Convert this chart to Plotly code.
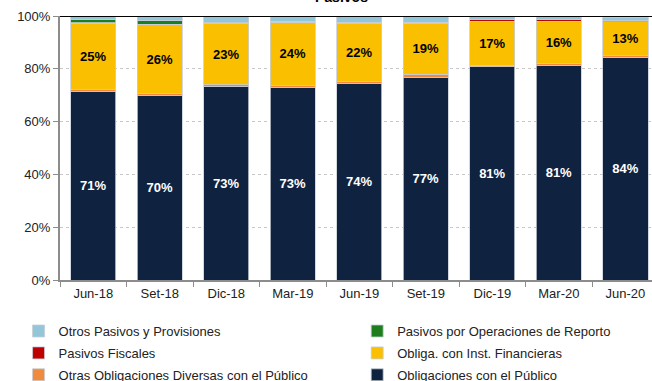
import plotly.graph_objects as go

categories = ["Jun-18", "Set-18", "Dic-18", "Mar-19", "Jun-19", "Set-19", "Dic-19", "Mar-20", "Jun-20"]

oblig_publico = [71.3, 69.8, 73.4, 72.8, 74.3, 76.6, 80.8, 81.3, 84.4]
otras_oblig = [1.0, 0.9, 0.5, 0.9, 0.8, 1.3, 0.5, 0.8, 0.5]
oblig_inst_fin = [25.0, 26.0, 23.2, 23.9, 22.2, 19.4, 16.8, 16.0, 12.9]
pasivos_fiscales = [0.1, 0.1, 0.1, 0.4, 0.4, 0.4, 0.4, 0.5, 0.4]
pasivos_reporto = [1.1, 1.4, 0.4, 0.0, 0.0, 0.0, 0.0, 0.0, 0.0]
otros_pasivos = [1.5, 1.8, 2.4, 2.0, 2.3, 2.3, 1.5, 1.4, 1.4]

# (name, values, color, labeled, label color, legend column, rank in column)
series = [
    ("Obligaciones con el Público", oblig_publico, "#0F2341", True, "white", "legend2", 3),
    ("Otras Obligaciones Diversas con el Público", otras_oblig, "#F08A3C", False, None, "legend", 3),
    ("Obliga. con Inst. Financieras", oblig_inst_fin, "#FAC000", True, "black", "legend2", 2),
    ("Pasivos Fiscales", pasivos_fiscales, "#C00000", False, None, "legend", 2),
    ("Pasivos por Operaciones de Reporto", pasivos_reporto, "#1E7E1E", False, None, "legend2", 1),
    ("Otros Pasivos y Provisiones", otros_pasivos, "#92C6D8", False, None, "legend", 1),
]

FONT = "Liberation Sans, Arial, sans-serif"

fig = go.Figure()
for name, vals, color, labeled, tcolor, leg, rank in series:
    kw = {}
    if labeled:
        kw = dict(
            text=[f"{round(v):d}%" for v in vals],
            textposition="inside",
            insidetextanchor="middle",
            textangle=0,
            textfont=dict(family=FONT, size=13, color=tcolor, weight="bold"),
        )
    fig.add_trace(go.Bar(
        x=categories, y=vals, name=name, legend=leg, legendgroup=name, legendrank=rank,
        marker=dict(color=color, line=dict(color="rgba(200,205,215,1)", width=0.8)),
        width=0.68, hoverinfo="skip", **kw,
    ))

legend_common = dict(
    orientation="v", traceorder="grouped", tracegroupgap=2,
    yanchor="top", xanchor="left", y=-0.1365,
    font=dict(family=FONT, size=13, color="#222"),
    itemclick=False, itemdoubleclick=False, bgcolor="rgba(0,0,0,0)",
)

fig.update_layout(
    barmode="stack",
    width=652, height=381,
    margin=dict(l=60, r=0, t=16, b=101, autoexpand=False),
    paper_bgcolor="white", plot_bgcolor="white",
    font=dict(family=FONT, size=13, color="#222"),
    uniformtext=dict(mode="show", minsize=8),
    showlegend=True,
    legend=dict(x=-0.07, **legend_common),
    legend2=dict(x=0.502, **legend_common),
    xaxis=dict(
        range=[-0.5, 8.4], showline=True, linecolor="#8c8c8c", linewidth=2,
        ticks="outside", tickson="boundaries", ticklen=5, tickcolor="#8c8c8c",
        tickfont=dict(family=FONT, size=13, color="#222"), showgrid=False,
    ),
    yaxis=dict(
        range=[0, 100], dtick=20, ticksuffix="%", showline=True,
        linecolor="#8c8c8c", linewidth=2, ticks="outside", ticklen=5,
        tickcolor="#8c8c8c", showgrid=True, gridcolor="#c8c8c8", griddash="dot",
        gridwidth=1, tickfont=dict(family=FONT, size=13, color="#222"), zeroline=False,
    ),
    shapes=[dict(type="line", xref="paper", yref="y", x0=0, x1=1, y0=100, y1=100,
                 line=dict(color="black", width=2), layer="above")],
    annotations=[dict(text="<b>Pasivos</b>", xref="paper", yref="paper", x=0.475, y=1,
                      xanchor="center", yanchor="bottom", yshift=9, showarrow=False,
                      font=dict(family=FONT, size=14, color="black"))],
)

fig.write_html("out.html")
